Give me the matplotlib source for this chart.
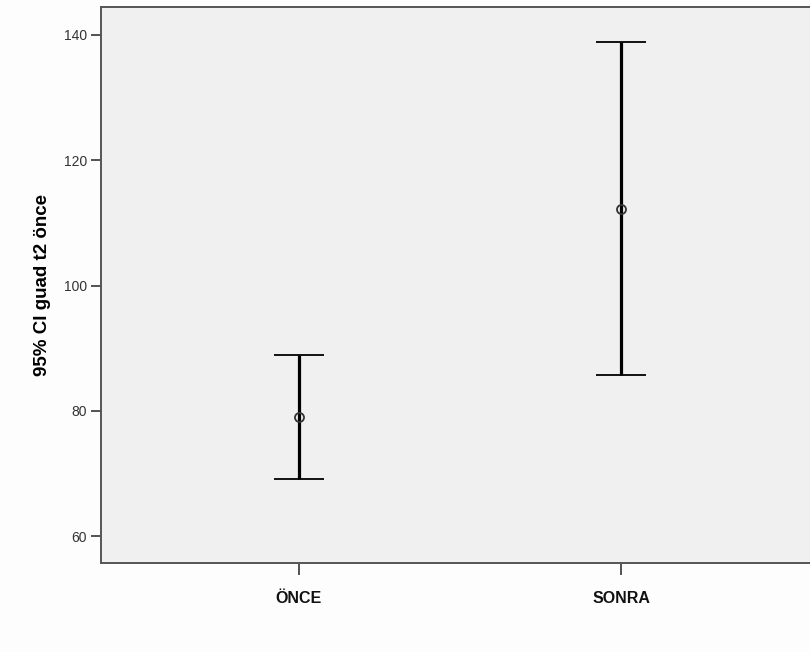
import matplotlib.pyplot as plt

# Veriler: gruplar, ortalamalar ve %95 güven aralığı sınırları
gruplar = ['ÖNCE', 'SONRA']
ortalama = [78.98, 112.2]
alt_sinir = [69.03, 85.67]
ust_sinir = [88.88, 138.83]

plt.rcParams['font.family'] = ['Liberation Sans', 'DejaVu Sans']

fig = plt.figure(figsize=(8.1, 6.52), dpi=100, facecolor='#fdfdfd')
ax = fig.add_axes([101 / 810, 89 / 652, 720 / 810, 556 / 652])
ax.set_facecolor('#f0f0f0')

x = [1, 2]
hata = [[m - a for m, a in zip(ortalama, alt_sinir)],
        [u - m for m, u in zip(ortalama, ust_sinir)]]
ax.errorbar(x, ortalama, yerr=hata, fmt='o', color='black', ecolor='black',
            elinewidth=2.3, capsize=18, capthick=2.6,
            markersize=6.5, markerfacecolor='none', markeredgecolor='#333333',
            markeredgewidth=1.3)

ax.set_xlim(0.387, 2.589 + 10 / 322)
ax.set_ylim(55.69, 144.47)
ax.set_xticks(x)
ax.set_xticklabels(gruplar, fontweight='bold', fontsize=11.5, color='#111111')
ax.set_yticks([60, 80, 100, 120, 140])
ax.tick_params(axis='y', length=7, width=1.3, color='#444444', labelsize=10,
               labelcolor='#333333', pad=3)
ax.tick_params(axis='x', length=8.5, width=1.3, color='#444444', pad=12)
ax.set_ylabel('95% CI guad t2 önce', fontweight='bold', fontsize=13.5, labelpad=9)

for s in ['left', 'bottom', 'top']:
    ax.spines[s].set_color('#555555')
    ax.spines[s].set_linewidth(1.4)
ax.spines['right'].set_visible(False)

plt.savefig('out.png', dpi=100, facecolor=fig.get_facecolor())
